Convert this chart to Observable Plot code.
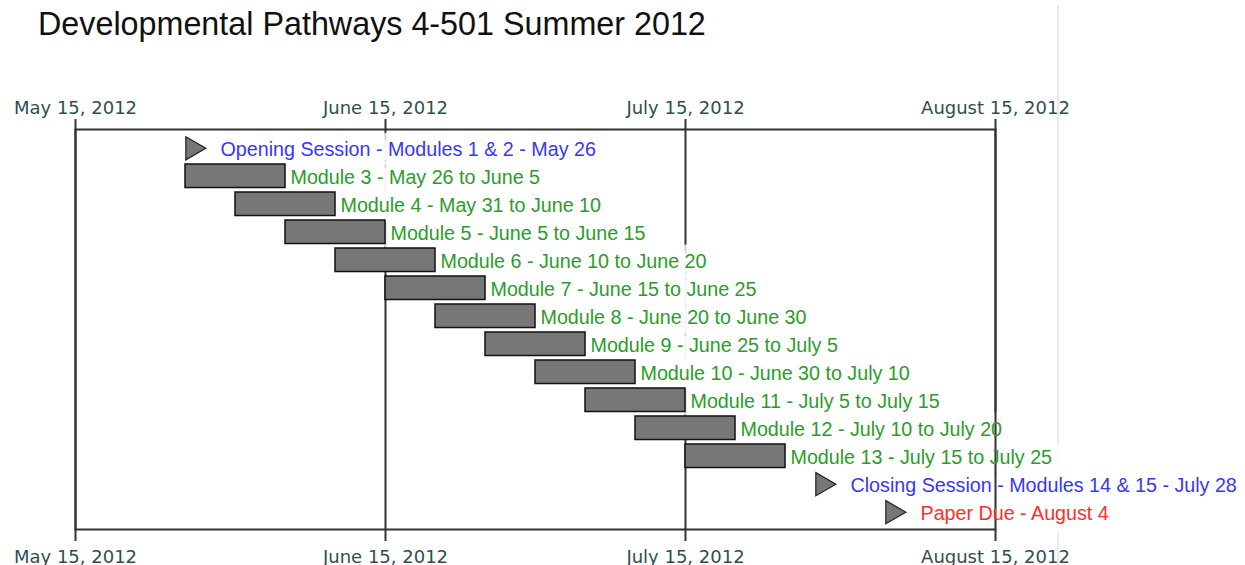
<!DOCTYPE html>
<html><head><meta charset="utf-8">
<script src="https://cdn.jsdelivr.net/npm/d3@7"></script>
<script src="https://cdn.jsdelivr.net/npm/@observablehq/plot@0.6"></script>
<style>
body{margin:0;background:#fff;width:1245px;height:565px;overflow:hidden;position:relative;}
#title{position:absolute;left:38px;top:8px;font-family:"Liberation Sans",Arial,Helvetica,sans-serif;font-size:32.3px;line-height:32px;color:#111;white-space:nowrap;}
#edge{position:absolute;left:1057px;top:5px;width:2px;height:560px;background:#ebebeb;}
#chart{position:absolute;left:0;top:60px;}
</style></head><body>
<div id="edge"></div>
<div id="title">Developmental Pathways 4-501 Summer 2012</div>
<div id="chart"></div>
<script>
const tasks = [
  "Opening Session - Modules 1 & 2 - May 26",
  "Module 3 - May 26 to June 5",
  "Module 4 - May 31 to June 10",
  "Module 5 - June 5 to June 15",
  "Module 6 - June 10 to June 20",
  "Module 7 - June 15 to June 25",
  "Module 8 - June 20 to June 30",
  "Module 9 - June 25 to July 5",
  "Module 10 - June 30 to July 10",
  "Module 11 - July 5 to July 15",
  "Module 12 - July 10 to July 20",
  "Module 13 - July 15 to July 25",
  "Closing Session - Modules 14 & 15 - July 28",
  "Paper Due - August 4"
];
const starts = ["2012-05-26","2012-05-26","2012-05-31","2012-06-05","2012-06-10","2012-06-15","2012-06-20","2012-06-25","2012-06-30","2012-07-05","2012-07-10","2012-07-15","2012-07-28","2012-08-04"];
const ends = [null,"2012-06-05","2012-06-10","2012-06-15","2012-06-20","2012-06-25","2012-06-30","2012-07-05","2012-07-10","2012-07-15","2012-07-20","2012-07-25",null,null];
const kinds = ["session","module","module","module","module","module","module","module","module","module","module","module","session","deadline"];
const tickDates = ["2012-05-15","2012-06-15","2012-07-15","2012-08-15"];
const domainDates = ["2012-05-15","2012-08-15"];
const kindColors = {session:"#3636ff", module:"#2a9c2a", deadline:"#ff2d2d"};

const parse = d3.utcParse("%Y-%m-%d");
const rows = tasks.map((t,i)=>({task:t, start:parse(starts[i]), end: ends[i] ? parse(ends[i]) : null, kind:kinds[i]}));
const bars = rows.filter(d=>d.end);
const miles = rows.filter(d=>!d.end);
const ticks = tickDates.map(parse);
const fmt = d3.utcFormat("%B %-d, %Y");
const labelFont = "'Liberation Sans', Arial, Helvetica, sans-serif";
const axisFont = "'DejaVu Sans', Verdana, sans-serif";
const halo = {textAnchor:"start", fill:"none", stroke:"white", strokeWidth:20, strokeOpacity:0.78, strokeLinejoin:"round", fontSize:19.7, fontFamily:labelFont, dy:1};
const lab = {textAnchor:"start", fill:d=>kindColors[d.kind], fontSize:19.7, fontFamily:labelFont, dy:1};

const chart = Plot.plot({
  width:1245, height:505,
  marginTop:69, marginBottom:36, marginLeft:75, marginRight:250,
  style:{background:"transparent", overflow:"visible"},
  x:{type:"utc", domain:domainDates.map(parse), axis:null},
  y:{type:"band", domain:tasks, axis:null, round:false, paddingInner:0.16, paddingOuter:0, insetTop:7, insetBottom:5.5},
  color:{type:"identity"},
  marks:[
    Plot.ruleX(ticks, {stroke:"#333", strokeWidth:2}),
    Plot.text(bars, {x:"end", y:"task", text:"task", dx:5, ...halo}),
    Plot.text(miles, {x:"start", y:"task", text:"task", dx:35, ...halo}),
    Plot.frame({stroke:"#333", strokeWidth:2}),
    Plot.barX(bars, {x1:"start", x2:"end", y:"task", fill:"#777", stroke:"#111", strokeWidth:1.5}),
    Plot.dot(miles, {x:"start", y:"task", symbol:"triangle", rotate:90, r:8.6, dx:7, fill:"#777", stroke:"#222", strokeWidth:1.2}),
    Plot.text(bars, {x:"end", y:"task", text:"task", dx:5, ...lab}),
    Plot.text(miles, {x:"start", y:"task", text:"task", dx:35, ...lab}),
    Plot.axisX(ticks, {anchor:"top", tickFormat:fmt, tickSize:11, tickPadding:5, fontSize:18, fontFamily:axisFont, fill:"#2f4f4f", stroke:"#333", strokeWidth:2, label:null}),
    Plot.axisX(ticks, {anchor:"bottom", tickFormat:fmt, tickSize:12, tickPadding:9, fontSize:18, fontFamily:axisFont, fill:"#2f4f4f", stroke:"#333", strokeWidth:2, label:null})
  ]
});
document.getElementById("chart").appendChild(chart);
</script>
</body></html>
